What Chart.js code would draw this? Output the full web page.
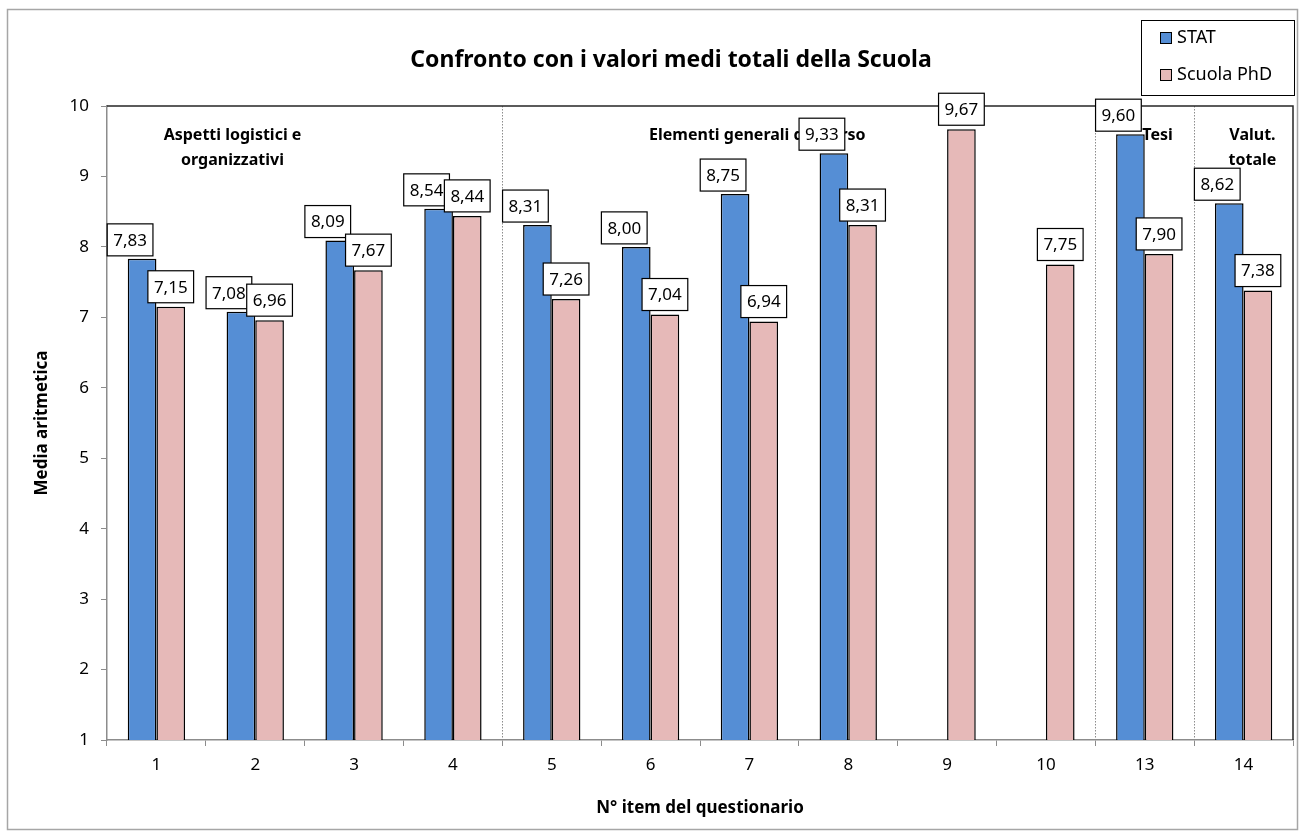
<!DOCTYPE html>
<html>
<head>
<meta charset="utf-8">
<script src="https://cdn.jsdelivr.net/npm/chart.js@4"></script>
<style>
  body { margin: 0; background: #fff; }
  #wrap { position: relative; width: 1301px; height: 834px; }
</style>
</head>
<body>
<div id="wrap"><canvas id="chart" width="1301" height="834"></canvas></div>
<script>
const items = ['1', '2', '3', '4', '5', '6', '7', '8', '9', '10', '13', '14'];
const statValues = [7.83, 7.08, 8.09, 8.54, 8.31, 8.00, 8.75, 9.33, null, null, 9.60, 8.62];
const scuolaValues = [7.15, 6.96, 7.67, 8.44, 7.26, 7.04, 6.94, 8.31, 9.67, 7.75, 7.90, 7.38];
const yTicks = [1, 2, 3, 4, 5, 6, 7, 8, 9, 10];

// section titles and the category they sit over (fractional index)
const groupTitles = [['Aspetti logistici e', 'organizzativi'], ['Elementi generali del corso'], ['Tesi'], ['Valut.', 'totale']];
const groupAnchors = [0.77, 6.08, 10.13, 11.09];
// dotted separators after these category indexes
const separators = [3, 9, 10];

const FONT = "'Noto Sans', sans-serif";
const BLUE = '#558ED5';
const PINK = '#E6B9B8';

const fmt = v => v.toFixed(2).replace('.', ',');

const decorations = {
    id: 'decorations',
    beforeDraw(chart) {
        const ctx = chart.ctx;
        ctx.save();
        ctx.fillStyle = '#fff';
        ctx.fillRect(0, 0, chart.width, chart.height);
        ctx.strokeStyle = '#a6a6a6';
        ctx.lineWidth = 1.5;
        ctx.strokeRect(7.5, 9.5, 1290, 820);
        ctx.restore();
    },
    afterDatasetsDraw(chart) {
        const ctx = chart.ctx;
        const area = chart.chartArea;
        const x = chart.scales.x;
        const step = x.getPixelForValue(1) - x.getPixelForValue(0);
        ctx.save();

        // dotted separators
        ctx.strokeStyle = '#8c8c8c';
        ctx.lineWidth = 1;
        ctx.setLineDash([1.5, 1.5]);
        separators.forEach(i => {
            const px = Math.round(x.getPixelForValue(i) + step / 2) + 0.5;
            ctx.beginPath();
            ctx.moveTo(px, area.top);
            ctx.lineTo(px, area.bottom);
            ctx.stroke();
        });
        ctx.setLineDash([]);

        // plot border top & right
        ctx.strokeStyle = '#262626';
        ctx.lineWidth = 1.5;
        ctx.beginPath();
        ctx.moveTo(area.left, area.top);
        ctx.lineTo(area.right, area.top);
        ctx.lineTo(area.right, area.bottom);
        ctx.stroke();

        // group titles
        ctx.fillStyle = '#000';
        ctx.font = 'bold 16px ' + FONT;
        ctx.textAlign = 'center';
        ctx.textBaseline = 'middle';
        groupTitles.forEach((lines, g) => {
            const px = x.getPixelForValue(groupAnchors[g]);
            lines.forEach((t, k) => ctx.fillText(t, px, area.top + 29 + k * 25));
        });

        // value labels
        ctx.font = '17px ' + FONT;
        chart.data.datasets.forEach((ds, di) => {
            const meta = chart.getDatasetMeta(di);
            meta.data.forEach((bar, i) => {
                const v = ds.data[i];
                if (v == null) return;
                const txt = fmt(v);
                const w = ctx.measureText(txt).width + 12;
                const h = 32;
                const cx = di === 0 ? bar.x - 12 : bar.x;
                const bottom = bar.y - (di === 0 ? 3 : 4);
                ctx.fillStyle = '#fff';
                ctx.fillRect(cx - w / 2, bottom - h, w, h);
                ctx.strokeStyle = '#000';
                ctx.lineWidth = 1.2;
                ctx.strokeRect(cx - w / 2, bottom - h, w, h);
                ctx.fillStyle = '#000';
                ctx.fillText(txt, cx, bottom - h / 2 + 1);
            });
        });

        // title
        ctx.font = 'bold 23px ' + FONT;
        ctx.fillText('Confronto con i valori medi totali della Scuola', 671, 60);

        // legend
        ctx.strokeStyle = '#000';
        ctx.lineWidth = 1;
        ctx.strokeRect(1141.5, 20.5, 153, 75);
        ctx.textAlign = 'left';
        ctx.font = '18px ' + FONT;
        chart.data.datasets.forEach((ds, di) => {
            const ly = 38 + di * 37;
            ctx.fillStyle = ds.backgroundColor;
            ctx.fillRect(1160, ly - 6, 12, 12);
            ctx.strokeStyle = '#000';
            ctx.strokeRect(1160.5, ly - 5.5, 11, 11);
            ctx.fillStyle = '#000';
            ctx.fillText(ds.label, 1177, ly);
        });
        ctx.restore();
    }
};

new Chart(document.getElementById('chart'), {
    type: 'bar',
    data: {
        labels: items,
        datasets: [
            { label: 'STAT', data: statValues, backgroundColor: BLUE, borderColor: '#000', borderWidth: 1.5, borderSkipped: 'bottom' },
            { label: 'Scuola PhD', data: scuolaValues, backgroundColor: PINK, borderColor: '#000', borderWidth: 1.5, borderSkipped: 'bottom' }
        ]
    },
    options: {
        responsive: false,
        animation: false,
        layout: { padding: { top: 106, left: 28, right: 8, bottom: 12 } },
        datasets: { bar: { categoryPercentage: 0.58, barPercentage: 1 } },
        plugins: {
            legend: { display: false },
            title: { display: false },
            tooltip: { enabled: false }
        },
        scales: {
            x: {
                afterFit: s => { s.height = 82; },
                grid: { offset: true, drawOnChartArea: false, tickLength: 6, color: '#8c8c8c' },
                border: { color: '#8c8c8c', width: 1.5 },
                ticks: { color: '#000', font: { family: FONT, size: 17 }, padding: 9 },
                title: { display: true, text: 'N° item del questionario', color: '#000', font: { family: FONT, size: 17, weight: 'bold' } }
            },
            y: {
                min: 1,
                max: 10,
                afterFit: s => { s.width = 79; },
                afterBuildTicks: s => { s.ticks = yTicks.map(v => ({ value: v })); },
                grid: { drawOnChartArea: false, tickLength: 6, color: '#8c8c8c' },
                border: { color: '#8c8c8c', width: 1.5 },
                ticks: { color: '#000', font: { family: FONT, size: 17 }, padding: 12 },
                title: { display: true, text: 'Media aritmetica', color: '#000', font: { family: FONT, size: 17, weight: 'bold' } }
            }
        }
    },
    plugins: [decorations]
});
</script>
</body>
</html>
